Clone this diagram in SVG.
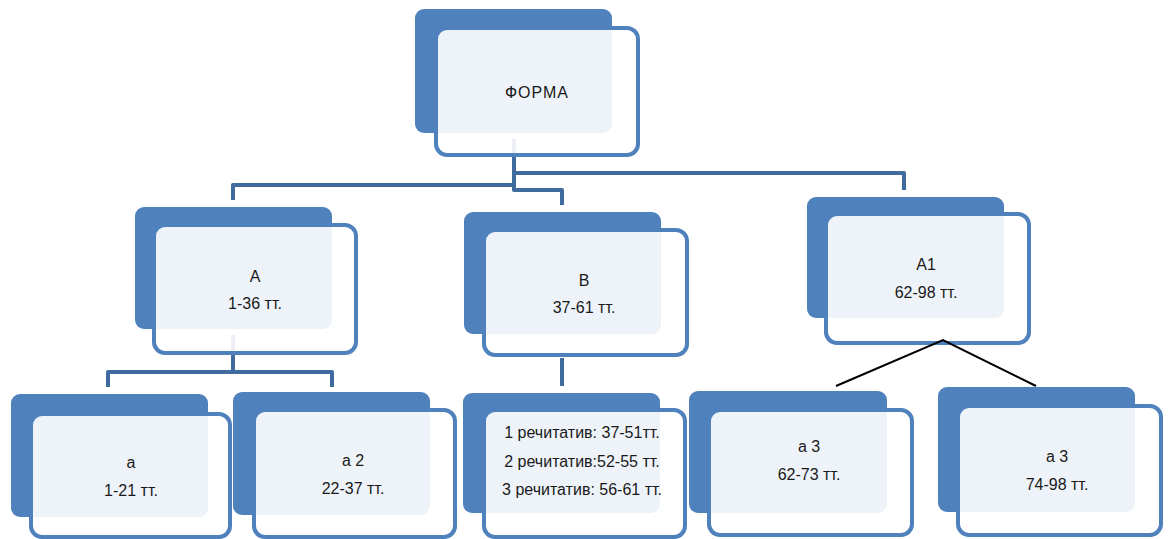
<svg xmlns="http://www.w3.org/2000/svg" width="1169" height="539" viewBox="0 0 1169 539">
<style>
.back{fill:#4F81BD;}
.front{fill:#FFFFFF;fill-opacity:0.9;stroke:#4F81BD;stroke-width:4;}
.conn{fill:none;stroke:#3F6B9E;stroke-width:4;stroke-linejoin:round;}
.thin{fill:none;stroke:#000000;stroke-width:2;}
text{font-family:"Liberation Sans",Arial,sans-serif;font-size:16px;fill:#1a1a1a;text-anchor:middle;}
</style>
<rect width="1169" height="539" fill="#FFFFFF"/>
<g id="connectors">
<path class="conn" d="M514,139 V190 H562 V205"/>
<path class="conn" d="M514,185 H233 V200"/>
<path class="conn" d="M514,173 H904 V190"/>
<path class="conn" d="M233,335 V372 H108 V387"/>
<path class="conn" d="M233,372 H332 V387"/>
<path class="conn" d="M562,358 V386"/>
</g>
<g id="node-forma">
<rect class="back" x="415" y="9" width="197" height="124" rx="9"/>
<rect class="front" x="436" y="28" width="202" height="127" rx="11"/>
<text x="537" y="98" style="letter-spacing:1px">ФОРМА</text>
</g>
<g id="node-A">
<rect class="back" x="135" y="207" width="197" height="122" rx="9"/>
<rect class="front" x="154" y="225" width="202" height="128" rx="11"/>
<text x="255" y="282">A</text>
<text x="255" y="309">1-36 тт.</text>
</g>
<g id="node-B">
<rect class="back" x="464" y="212" width="197" height="122" rx="9"/>
<rect class="front" x="484" y="230" width="203" height="125" rx="11"/>
<text x="584" y="286">B</text>
<text x="584" y="313">37-61 тт.</text>
</g>
<g id="node-A1">
<rect class="back" x="807" y="197" width="197" height="121" rx="9"/>
<rect class="front" x="826" y="214" width="203" height="129" rx="11"/>
<text x="926" y="270">A1</text>
<text x="926" y="298">62-98 тт.</text>
</g>
<g id="node-a">
<rect class="back" x="11" y="394" width="197" height="123" rx="9"/>
<rect class="front" x="31" y="414" width="199" height="123" rx="11"/>
<text x="131" y="468">a</text>
<text x="131" y="496">1-21 тт.</text>
</g>
<g id="node-a2">
<rect class="back" x="233" y="392" width="197" height="123" rx="9"/>
<rect class="front" x="254" y="410" width="201" height="127" rx="11"/>
<text x="353" y="466">a 2</text>
<text x="353" y="494">22-37 тт.</text>
</g>
<g id="node-recitative">
<rect class="back" x="463" y="393" width="197" height="120" rx="9"/>
<rect class="front" x="484" y="410" width="201" height="127" rx="11"/>
<text x="582" y="438">1 речитатив: 37-51тт.</text>
<text x="582" y="467">2 речитатив:52-55 тт.</text>
<text x="582" y="495">3 речитатив: 56-61 тт.</text>
</g>
<g id="node-a3-left">
<rect class="back" x="689" y="391" width="198" height="122" rx="9"/>
<rect class="front" x="709" y="410" width="203" height="125" rx="11"/>
<text x="809" y="452">a 3</text>
<text x="809" y="480">62-73 тт.</text>
</g>
<g id="node-a3-right">
<rect class="back" x="938" y="387" width="197" height="125" rx="9"/>
<rect class="front" x="958" y="406" width="203" height="129" rx="11"/>
<text x="1057" y="462">a 3</text>
<text x="1057" y="490">74-98 тт.</text>
</g>
<g id="connectors-a1">
<path class="thin" d="M836,386 L943,340 L1036,386"/>
</g>
</svg>
